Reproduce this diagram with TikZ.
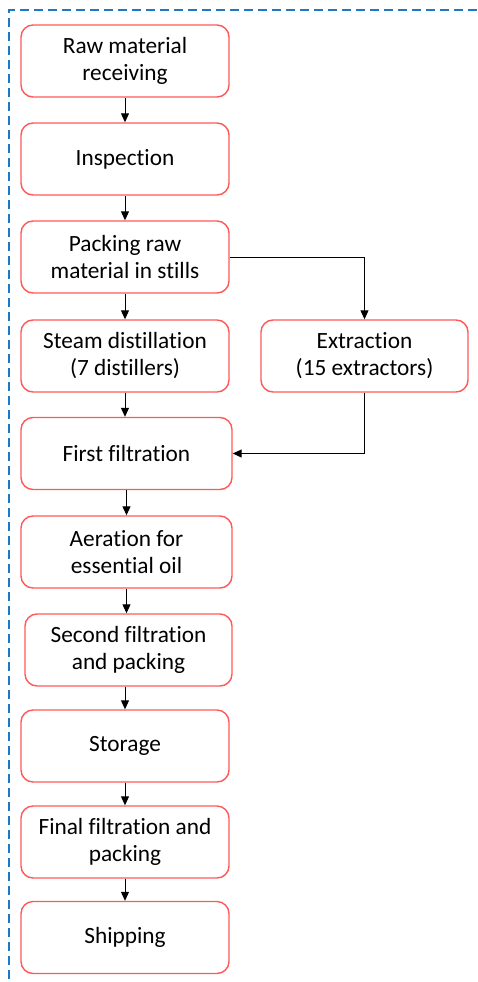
\documentclass[tikz,border=0pt]{standalone}
\usepackage{fontspec}
\setmainfont{Carlito}[Ligatures={NoCommon,NoContextual}]
\usetikzlibrary{arrows.meta}
\definecolor{boxred}{RGB}{255,88,88}
\definecolor{dashblue}{RGB}{30,120,200}
\begin{document}
\begin{tikzpicture}[x=1pt,y=-1pt,
  stepbox/.style={draw=boxred,line width=1.4pt,rounded corners=12pt,fill=white,
    minimum height=72pt,align=center,inner sep=2pt,
    font=\fontsize{23.3}{27}\selectfont},
  flow/.style={draw=black,line width=1pt,-{Triangle[length=9pt,width=8pt]}}]
\useasboundingbox (0,0) rectangle (477,982);
\coordinate (bTR) at (477,10);
\coordinate (bTL) at (9,10);
\coordinate (bBL) at (9,982);
\draw[dashblue,line width=1.3pt,dash pattern=on 9pt off 5pt] (bTR) -- (bTL) -- (bBL);
\node[stepbox,minimum width=208pt] (raw) at (125,61) {Raw material\\receiving};
\node[stepbox,minimum width=208pt] (insp) at (125,159) {Inspection};
\node[stepbox,minimum width=208pt] (pack) at (125,257) {Packing raw\\material in stills};
\node[stepbox,minimum width=208pt] (steam) at (125,356) {Steam distillation\\(7 distillers)};
\node[stepbox,minimum width=207pt] (extr) at (364.5,356) {Extraction\\(15 extractors)};
\node[stepbox,minimum width=211pt] (first) at (126.5,453.5) {First filtration};
\node[stepbox,minimum width=211pt] (aer) at (126.5,552) {Aeration for\\essential oil};
\node[stepbox,minimum width=207pt] (second) at (128.5,650) {Second filtration\\and packing};
\node[stepbox,minimum width=208pt] (stor) at (125,746) {Storage};
\node[stepbox,minimum width=208pt] (final) at (125,842) {Final filtration and\\packing};
\node[stepbox,minimum width=208pt] (ship) at (125,937.5) {Shipping};
\draw[flow] (raw.south) -- (raw.south |- insp.north);
\draw[flow] (insp.south) -- (insp.south |- pack.north);
\draw[flow] (pack.south) -- (pack.south |- steam.north);
\draw[flow] (pack.east) -| (extr.north);
\draw[flow] (steam.south) -- (steam.south |- first.north);
\draw[flow] (extr.south) |- (first.east);
\draw[flow] (first.south) -- (first.south |- aer.north);
\draw[flow] (aer.south) -- (aer.south |- second.north);
\draw[flow] (second.south -| stor.north) -- (stor.north);
\draw[flow] (stor.south) -- (stor.south |- final.north);
\draw[flow] (final.south) -- (final.south |- ship.north);
\end{tikzpicture}
\end{document}
